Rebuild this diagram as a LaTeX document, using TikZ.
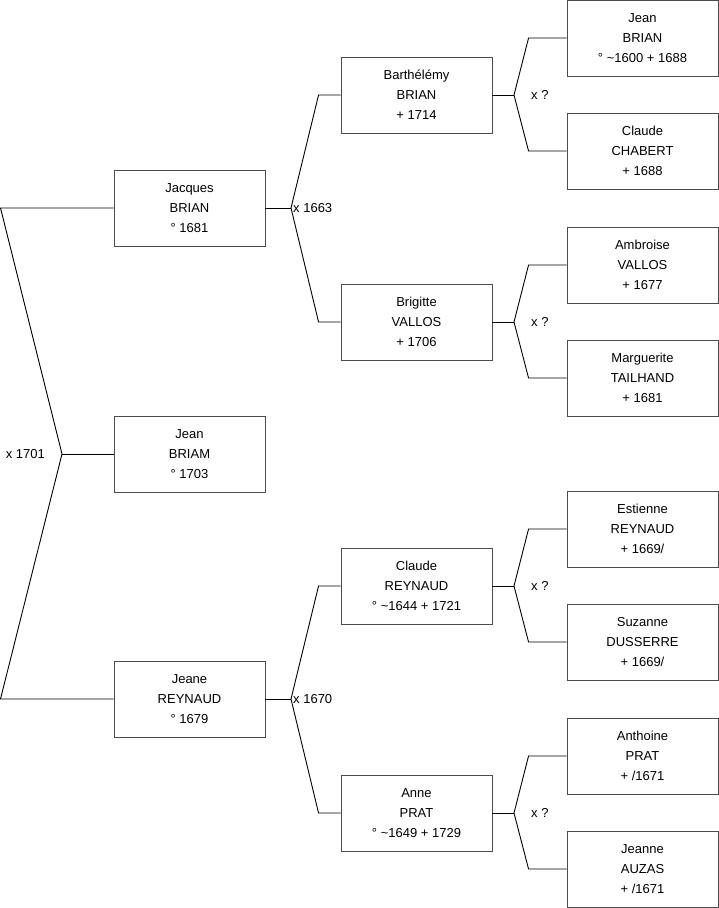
\documentclass[tikz,border=0pt]{standalone}
\usepackage{fontspec}
\setmainfont{Liberation Sans}
\usetikzlibrary{positioning}
\tikzset{
  person/.style={draw=black!70, line width=0.9pt, minimum width=151pt, minimum height=76pt,
    inner sep=0pt, align=center, font=\fontsize{13}{20}\selectfont},
  link/.style={black, line width=0.9pt},
  union/.style={font=\fontsize{13}{16}\selectfont, inner sep=0pt},
}

\begin{document}
\begin{tikzpicture}[x=1pt, y=-1pt]
  \useasboundingbox (0,0) rectangle (719,908);
  % generation 1
  \node[person] (jacques) at (189.5,208) {Jacques\\BRIAN\\° 1681};
  \node[person] (jean) at (189.5,454) {Jean\\BRIAM\\° 1703};
  \node[person] (jeane) at (189.5,699) {Jeane\\REYNAUD\\° 1679};
  % generation 2
  \node[person] (barth) at (416.5,95) {Barthélémy\\BRIAN\\+ 1714};
  \node[person] (brigitte) at (416.5,322) {Brigitte\\VALLOS\\+ 1706};
  \node[person] (claude) at (416.5,586) {Claude\\REYNAUD\\° \textasciitilde1644 + 1721};
  \node[person] (anne) at (416.5,813) {Anne\\PRAT\\° \textasciitilde1649 + 1729};
  % generation 3
  \node[person] (jeanb) at (642.5,38) {Jean\\BRIAN\\° \textasciitilde1600 + 1688};
  \node[person] (chabert) at (642.5,151) {Claude\\CHABERT\\+ 1688};
  \node[person] (ambroise) at (642.5,265) {Ambroise\\VALLOS\\+ 1677};
  \node[person] (marguerite) at (642.5,378) {Marguerite\\TAILHAND\\+ 1681};
  \node[person] (estienne) at (642.5,529) {Estienne\\REYNAUD\\+ 1669/};
  \node[person] (suzanne) at (642.5,642) {Suzanne\\DUSSERRE\\+ 1669/};
  \node[person] (anthoine) at (642.5,756) {Anthoine\\PRAT\\+ /1671};
  \node[person] (jeanne) at (642.5,869) {Jeanne\\AUZAS\\+ /1671};

  % forks
  \coordinate (f0) at (62,454);
  \coordinate (f0a) at (0.5,208);
  \coordinate (f0b) at (0.5,699);
  \draw[link] (jean.west) -- (f0);
  \draw[link] (jacques.west) -- (f0a) -- (f0) -- (f0b) -- (jeane.west);
  \node[union, left=17pt of f0] (u0) {x 1701};

  \coordinate (f1) at (291,208);
  \draw[link] (jacques.east) -- (f1);
  \draw[link] (barth.west) -- ++(-22,0) -- (f1) -- ([xshift=-22pt]brigitte.west) -- (brigitte.west);
  \node[union, right=2pt of f1] (u1) {x 1663};

  \coordinate (f2) at (291,699);
  \draw[link] (jeane.east) -- (f2);
  \draw[link] (claude.west) -- ++(-22,0) -- (f2) -- ([xshift=-22pt]anne.west) -- (anne.west);
  \node[union, right=2pt of f2] (u2) {x 1670};

  \coordinate (f3) at (514,95);
  \draw[link] (barth.east) -- (f3);
  \draw[link] (jeanb.west) -- ++(-38,0) -- (f3) -- ([xshift=-38pt]chabert.west) -- (chabert.west);
  \node[union, right=17pt of f3] (u3) {x ?};

  \coordinate (f4) at (514,322);
  \draw[link] (brigitte.east) -- (f4);
  \draw[link] (ambroise.west) -- ++(-38,0) -- (f4) -- ([xshift=-38pt]marguerite.west) -- (marguerite.west);
  \node[union, right=17pt of f4] (u4) {x ?};

  \coordinate (f5) at (514,586);
  \draw[link] (claude.east) -- (f5);
  \draw[link] (estienne.west) -- ++(-38,0) -- (f5) -- ([xshift=-38pt]suzanne.west) -- (suzanne.west);
  \node[union, right=17pt of f5] (u5) {x ?};

  \coordinate (f6) at (514,813);
  \draw[link] (anne.east) -- (f6);
  \draw[link] (anthoine.west) -- ++(-38,0) -- (f6) -- ([xshift=-38pt]jeanne.west) -- (jeanne.west);
  \node[union, right=17pt of f6] (u6) {x ?};
\end{tikzpicture}
\end{document}
